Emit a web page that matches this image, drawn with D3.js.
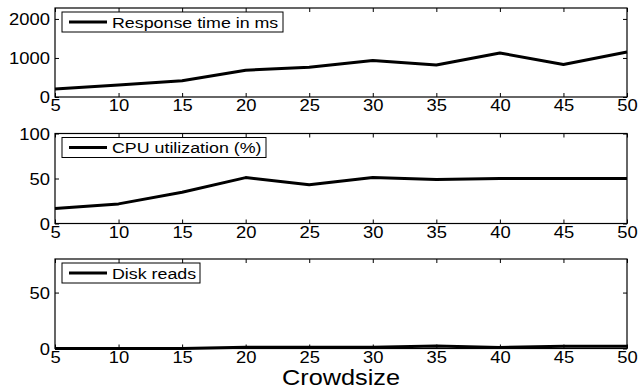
<!DOCTYPE html>
<html>
<head>
<meta charset="utf-8">
<script src="https://cdn.jsdelivr.net/npm/d3@7"></script>
<style>
  body { margin: 0; background: white; }
  text { font-family: "Liberation Sans", Arial, sans-serif; fill: black; }
</style>
</head>
<body>
<div id="chart"></div>
<script>
// chart values
var crowdsize    = [5, 10, 15, 20, 25, 30, 35, 40, 45, 50];
var responseTime = [204, 305, 415, 687, 760, 933, 822, 1127, 832, 1153];
var cpuUtil      = [16.7, 21.8, 34.8, 51, 43, 51, 49, 50, 50, 50];
var diskReads    = [0, 0, 0, 1.2, 1.2, 1.2, 2.3, 1, 2, 2];

var xTicks    = [5, 10, 15, 20, 25, 30, 35, 40, 45, 50];
var rtTicks   = [0, 1000, 2000];
var cpuTicks  = [0, 50, 100];
var diskTicks = [0, 50];

var seriesNames = ["Response time in ms", "CPU utilization (%)", "Disk reads"];

w = 639
h = 390
var stretch = 1.15;   // the picture's text is a bit wide

var svg = d3.select("#chart")
    .append("svg")
    .attr("width", w)
    .attr("height", h)
    .style("background-color", "white");

var x = d3.scaleLinear().domain([5, 50]).range([55, 627]);

// one entry per subplot: values, y max, ticks, vertical extent, legend width
var panels = [
    {vals: responseTime, ymax: 2280, ticks: rtTicks,   top: 8,     bottom: 97,    legW: 221},
    {vals: cpuUtil,      ymax: 100,  ticks: cpuTicks,  top: 133.5, bottom: 223.5, legW: 204},
    {vals: diskReads,    ymax: 80,   ticks: diskTicks, top: 259,   bottom: 348.5, legW: 138}
];

panels.forEach(function(p, k){
    var y = d3.scaleLinear().domain([0, p.ymax]).range([p.bottom, p.top]);
    var g = svg.append("g");

    // box
    g.append("rect")
        .attr("x", x.range()[0]).attr("y", p.top)
        .attr("width", x.range()[1] - x.range()[0])
        .attr("height", p.bottom - p.top)
        .attr("fill", "none").attr("stroke", "black").attr("stroke-width", 1.2);

    // bottom axis with labels, ticks pointing in
    var xb = g.append("g")
        .attr("transform", "translate(0," + p.bottom + ")")
        .call(d3.axisBottom(x).tickValues(xTicks).tickSize(-4).tickPadding(3).tickFormat(d3.format("d")));
    // top ticks, no labels
    var xt = g.append("g")
        .attr("transform", "translate(0," + p.top + ")")
        .call(d3.axisTop(x).tickValues(xTicks).tickSize(-4).tickFormat(""));
    // left axis
    var yl = g.append("g")
        .attr("transform", "translate(" + x.range()[0] + ",0)")
        .call(d3.axisLeft(y).tickValues(p.ticks).tickSize(-4).tickPadding(5).tickFormat(d3.format("d")));
    // right ticks
    var yr = g.append("g")
        .attr("transform", "translate(" + x.range()[1] + ",0)")
        .call(d3.axisRight(y).tickValues(p.ticks).tickSize(-4).tickFormat(""));

    [xb, xt, yl, yr].forEach(function(a){
        a.select(".domain").remove();
        a.selectAll("line").attr("stroke", "black").attr("stroke-width", 1);
        a.selectAll("text")
            .style("font-family", "'Liberation Sans', Arial, sans-serif")
            .style("font-size", "16px")
            .attr("fill", "black");
    });
    xb.selectAll("text").attr("transform", "scale(" + stretch + ",1)");
    yl.selectAll("text").attr("transform", "scale(" + stretch + ",1)").attr("x", -5 / stretch).attr("dy", "0.36em");

    // series line
    var line = d3.line()
        .x(function(d, i){ return x(crowdsize[i]); })
        .y(function(d){ return y(d); });
    g.append("path")
        .datum(p.vals)
        .attr("d", line)
        .attr("fill", "none")
        .attr("stroke", "black")
        .attr("stroke-width", 3)
        .attr("stroke-linejoin", "round");

    // legend
    var lx = 62, ly = p.top + 4, lh = 20;
    g.append("rect")
        .attr("x", lx).attr("y", ly).attr("width", p.legW).attr("height", lh)
        .attr("fill", "white").attr("stroke", "black").attr("stroke-width", 1);
    g.append("line")
        .attr("x1", lx + 7).attr("x2", lx + 45)
        .attr("y1", ly + lh / 2).attr("y2", ly + lh / 2)
        .attr("stroke", "black").attr("stroke-width", 3);
    g.append("text")
        .attr("transform", "translate(" + (lx + 50) + "," + (ly + lh / 2 + 5.5) + ") scale(" + stretch + ",1)")
        .style("font-size", "15.5px")
        .text(seriesNames[k]);
});

// x label
svg.append("text")
    .attr("transform", "translate(341,385) scale(" + stretch + ",1)")
    .attr("text-anchor", "middle")
    .style("font-size", "22px")
    .text("Crowdsize");
</script>
</body>
</html>
